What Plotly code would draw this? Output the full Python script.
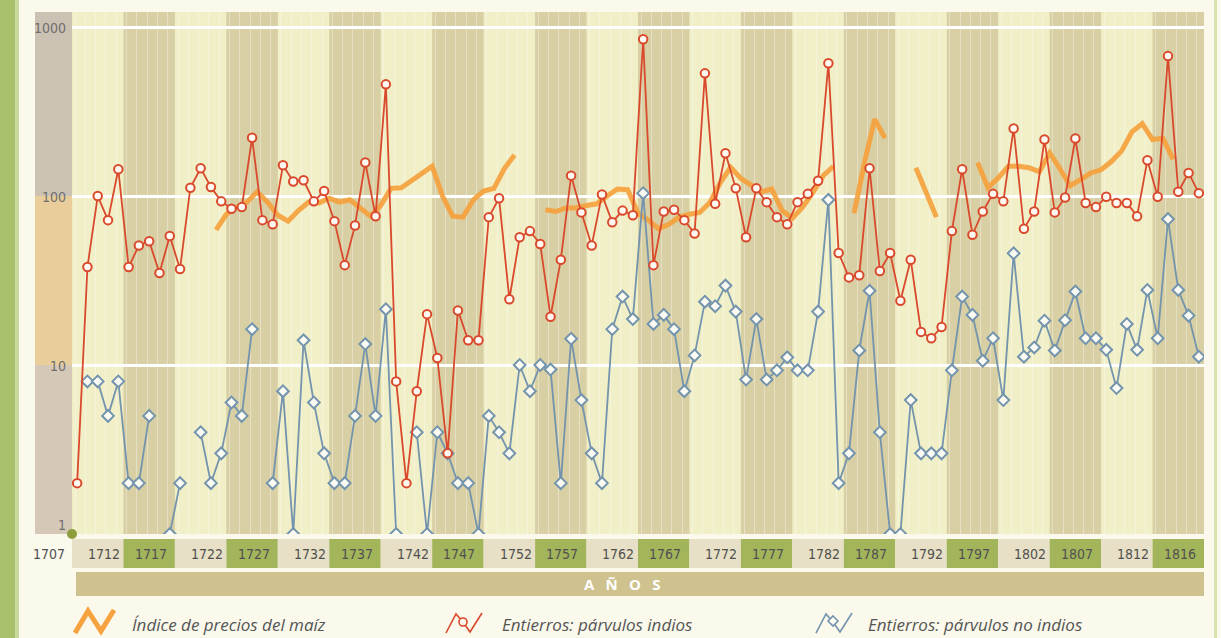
import plotly.graph_objects as go

# ---------------- data ----------------
years = list(range(1707, 1817))

# Entierros: párvulos indios (1707-1816)
indios = [2, 38, 100, 72, 144, 38, 51, 54, 35, 58,
          37, 112, 146, 113, 93, 84, 86, 221, 72, 68,
          152, 122, 124, 93, 107, 71, 39, 67, 158, 76,
          458, 8, 2, 7, 20, 11, 3, 21, 14, 14,
          75, 97, 24.5, 57, 62, 52, 19.3, 42, 132, 80,
          51, 102, 70, 82, 77, 846, 39, 81, 83, 72,
          60, 532, 90, 179, 111, 57, 111, 92, 75, 68,
          92, 103, 123, 610, 46, 33, 34, 146, 36, 46,
          24, 42, 15.7, 14.4, 16.8, 62, 144, 59, 81, 103,
          93, 251, 64, 81, 216, 80, 98, 219, 91, 86,
          99, 91, 91, 76, 163, 99, 673, 106, 137, 104]

# Entierros: párvulos no indios (1707-1816), None = sin dato
no_indios = [None, 8, 8, 5, 8, 2, 2, 5, None, 1,
             2, None, 4, 2, 3, 6, 5, 16.3, None, 2,
             7, 1, 14, 6, 3, 2, 2, 5, 13.3, 5,
             21.4, 1, None, 4, 1, 4, 3, 2, 2, 1,
             5, 4, 3, 10, 7, 10, 9.4, 2, 14.3, 6.2,
             3, 2, 16.3, 25.4, 18.7, 104, 17.5, 19.8, 16.3, 7,
             11.4, 23.7, 22.3, 29.5, 20.7, 8.2, 18.7, 8.2, 9.3, 11.1,
             9.3, 9.3, 20.7, 95, 2, 3, 12.2, 27.5, 4, 1,
             1, 6.2, 3, 3, 3, 9.3, 25.4, 19.8, 10.6, 14.4,
             6.2, 45.8, 11.2, 12.7, 18.3, 12.2, 18.4, 27.2, 14.4, 14.4,
             12.3, 7.3, 17.5, 12.3, 27.8, 14.4, 73, 27.8, 19.6, 11.2]

# Índice de precios del maíz, por año agrícola (inicio 1720 ... 1813)
maiz_years = list(range(1720, 1814))
maiz = [63, 78, 86, 92, 106, 92, 77, 71, 82, 92,
        91, 97, 92, 95, 85, 76, 88, 111, 112, 124,
        138, 150, 100, 76, 75, 95, 107, 111, 145, 175,
        None, None,
        83, 81, 85, 85, 88, 90, 100, 110, 109, 79,
        72, 64, 68, 75, 78, 80, 92, 120, 148, 127,
        116, 106, 110, 82, 74, 86, 105, 132, 150,
        None,
        79, 157, 285, 220,
        None, None,
        147, 104, 75,
        None, None, None,
        158, 112, 128, 150, 150, 147, 139, 180, 145, 115,
        125, 137, 143, 160, 185, 240, 268, 216, 220, 165]

x_labels = ["1707", "1712", "1717", "1722", "1727", "1732", "1737", "1742",
            "1747", "1752", "1757", "1762", "1767", "1772", "1777", "1782",
            "1787", "1792", "1797", "1802", "1807", "1812", "1816"]
y_labels = ["1", "10", "100", "1000"]

legend_labels = ["Índice de precios del maíz",
                 "Entierros: párvulos indios",
                 "Entierros: párvulos no indios"]

# ---------------- geometry helpers ----------------
W, H = 1221, 638
ML, MR, MT, MB = 72, 17, 12, 104
PW = W - ML - MR
PH = H - MT - MB


def px(x):
    return (x - ML) / PW


def py(y):
    return (H - MB - y) / PH


X0, X1 = 1706.5, 1816.5

C_RED = "#D9492C"
C_BLUE = "#7394AC"
C_ORANGE = "#F6A23E"
C_LIGHT = "#F1EFC8"
C_BAND = "#D8CFA4"
C_GREEN = "#A3B55B"
C_LBOX = "#E7E0C6"
C_TEXT = "#505050"
NUM_FONT = "Liberation Sans Narrow, DejaVu Sans Condensed, Roboto, sans-serif"

fig = go.Figure()

fig.add_trace(go.Scatter(
    x=[y + 0.5 for y in maiz_years], y=maiz, mode="lines",
    line=dict(color=C_ORANGE, width=5), opacity=0.92,
    connectgaps=False, hoverinfo="x+y", name=legend_labels[0]))

fig.add_trace(go.Scatter(
    x=years, y=no_indios, mode="lines+markers",
    line=dict(color=C_BLUE, width=1.8),
    marker=dict(symbol="diamond", size=9, color="#FBFBF4",
                line=dict(color=C_BLUE, width=2)),
    connectgaps=False, name=legend_labels[2]))

fig.add_trace(go.Scatter(
    x=years, y=indios, mode="lines+markers",
    line=dict(color=C_RED, width=1.8),
    marker=dict(symbol="circle", size=8.5, color="#FFF9F2",
                line=dict(color=C_RED, width=2)),
    name=legend_labels[1]))

shapes = []
# left green border strip
shapes.append(dict(type="rect", xref="paper", yref="paper",
                   x0=px(0), x1=px(15), y0=py(H), y1=py(0),
                   fillcolor="#A7C16B", line_width=0, layer="below"))
shapes.append(dict(type="rect", xref="paper", yref="paper",
                   x0=px(15), x1=px(19), y0=py(H), y1=py(0),
                   fillcolor="#C9D89C", line_width=0, layer="below"))
shapes.append(dict(type="rect", xref="paper", yref="paper",
                   x0=px(1214), x1=px(1217), y0=py(H), y1=py(0),
                   fillcolor="#D9E3AE", line_width=0, layer="below"))
# y-axis column blocks
for (ya, yb, col) in [(12, 196, "#CBC2B3"), (196, 365, "#E9CE9B"), (365, 534, "#D6C8B7")]:
    shapes.append(dict(type="rect", xref="paper", yref="paper",
                       x0=px(35), x1=px(72), y0=py(yb), y1=py(ya),
                       fillcolor=col, line_width=0, layer="below"))
# 5-year bands in plot + label boxes
for i in range(1, len(x_labels)):
    b0 = X0 + 5 * (i - 1)
    b1 = b0 + 5
    green = (i % 2 == 0)
    if green:
        shapes.append(dict(type="rect", xref="x", yref="paper",
                           x0=b0, x1=b1, y0=0, y1=1,
                           fillcolor=C_BAND, line_width=0, layer="below"))
    shapes.append(dict(type="rect", xref="x", yref="paper",
                       x0=b0, x1=b1, y0=py(568), y1=py(539),
                       fillcolor=C_GREEN if green else C_LBOX,
                       line_width=0, layer="below"))
# AÑOS bar
shapes.append(dict(type="rect", xref="paper", yref="paper",
                   x0=px(76), x1=px(1204), y0=py(596), y1=py(572),
                   fillcolor="#CFC28F", line_width=0, layer="below"))
# origin dot
shapes.append(dict(type="circle", xref="paper", yref="paper",
                   x0=px(67), x1=px(77), y0=py(539), y1=py(529),
                   fillcolor="#8D9C3D", line_width=0, layer="above"))


def path(points):
    return "M " + " L ".join(f"{px(a):.5f},{py(b):.5f}" for a, b in points)


# legend icons
shapes.append(dict(type="path", xref="paper", yref="paper",
                   path=path([(75, 633), (88, 611), (101, 631), (114, 610)]),
                   line=dict(color=C_ORANGE, width=5)))
for (x0, col, kind) in [(446, C_RED, "circle"), (816, C_BLUE, "diamond")]:
    shapes.append(dict(type="path", xref="paper", yref="paper",
                       path=path([(x0, 633), (x0 + 10, 614), (x0 + 17, 622),
                                  (x0 + 24, 632), (x0 + 36, 613)]),
                       line=dict(color=col, width=1.6)))
    if kind == "circle":
        shapes.append(dict(type="circle", xref="paper", yref="paper",
                           x0=px(x0 + 13), x1=px(x0 + 21), y0=py(626), y1=py(618),
                           fillcolor="#FFF9F2", line=dict(color=col, width=1.6)))
    else:
        cx, cy = x0 + 17, 621
        shapes.append(dict(type="path", xref="paper", yref="paper",
                           path=path([(cx, cy - 5), (cx + 5, cy), (cx, cy + 5), (cx - 5, cy)]) + " Z",
                           fillcolor="#FBFBF4", line=dict(color=col, width=1.6)))

annotations = []
# y labels
for lab, ypix in zip(y_labels, [525, 366, 197, 28]):
    annotations.append(dict(xref="paper", yref="paper", x=px(68), y=py(ypix),
                            text=lab, showarrow=False, xanchor="right", yanchor="middle",
                            font=dict(family=NUM_FONT, size=14, color="#6E6E6E")))
# x labels
annotations.append(dict(xref="paper", yref="paper", x=px(49), y=py(554),
                        text=x_labels[0], showarrow=False, xanchor="center", yanchor="middle",
                        font=dict(family=NUM_FONT, size=14, color=C_TEXT)))
for i in range(1, len(x_labels)):
    c = X0 + 5 * (i - 1) + 2.5 + (0.6 if i % 2 == 1 else 0.15)
    annotations.append(dict(xref="x", yref="paper", x=c, y=py(554),
                            text=x_labels[i], showarrow=False, xanchor="center", yanchor="middle",
                            font=dict(family=NUM_FONT, size=14, color=C_TEXT)))
# axis title
annotations.append(dict(xref="paper", yref="paper", x=px(622), y=py(584),
                        text="A\u2002\u2005Ñ\u2002\u2005O\u2002\u2005S", showarrow=False,
                        xanchor="center", yanchor="middle",
                        font=dict(family="Open Sans, DejaVu Sans, sans-serif", size=15,
                                  color="#FFFFFF", weight="bold")))
# legend texts
for lab, xpix in zip(legend_labels, [130, 500, 866]):
    annotations.append(dict(xref="paper", yref="paper", x=px(xpix), y=py(624),
                            text=f"<i>{lab}</i>", showarrow=False,
                            xanchor="left", yanchor="middle",
                            font=dict(family="Open Sans, Lato, sans-serif", size=17,
                                      color="#555555")))

fig.update_layout(
    width=W, height=H,
    margin=dict(l=ML, r=MR, t=MT, b=MB, pad=0),
    paper_bgcolor="#FAF9EC",
    plot_bgcolor=C_LIGHT,
    showlegend=False,
    shapes=shapes,
    annotations=annotations,
    xaxis=dict(range=[X0, X1], showgrid=True, dtick=1, tick0=1706.8,
               gridcolor="rgba(255,255,255,0.35)", gridwidth=1,
               showticklabels=False, ticks="", zeroline=False, showline=False),
    yaxis=dict(type="log", range=[0, 3.089], showgrid=True,
               tickvals=[10, 100, 1000], gridcolor="#FFFFFF", gridwidth=3,
               showticklabels=False, ticks="", zeroline=False, showline=False),
)

fig.write_html(
    "out.html",
    config={"displayModeBar": False},
    post_script="document.body.style.margin='0px';document.body.style.padding='0px';"
                "document.body.style.overflow='hidden';",
)
